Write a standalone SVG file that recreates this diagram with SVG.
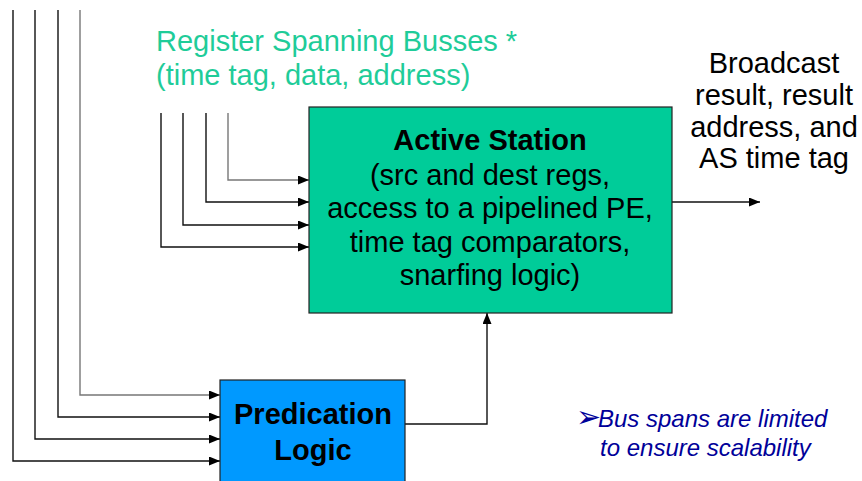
<svg xmlns="http://www.w3.org/2000/svg" width="862" height="481" viewBox="0 0 862 481">
<defs>
<marker id="ah" markerWidth="11" markerHeight="9" refX="11" refY="4.5" orient="auto" markerUnits="userSpaceOnUse">
<path d="M0,0 L11,4.5 L0,9 Z" fill="#000"/>
</marker>
<style>
.w{fill:none;stroke:#111;stroke-width:1.4}
.g{fill:none;stroke:#777;stroke-width:1.4}
.a{marker-end:url(#ah)}
.t{font-family:"Liberation Sans",Arial,sans-serif;font-size:29px;fill:#000;text-anchor:middle}
.b{font-weight:bold}
</style>
</defs>
<rect width="862" height="481" fill="#fff"/>
<g id="connectors">
<path class="w a" d="M13,10 V461 H220"/>
<path class="w a" d="M35,10 V439 H220"/>
<path class="w a" d="M58,10 V417 H220"/>
<path class="g a" d="M80,10 V395 H220"/>
<path class="w a" d="M161,113 V247 H309"/>
<path class="w a" d="M183,113 V225 H309"/>
<path class="w a" d="M206,113 V202 H309"/>
<path class="g a" d="M228,113 V180 H309"/>
<path class="w a" d="M405,424 H487 V313"/>
<path class="w a" d="M672,202 H760"/>
</g>
<g id="active-station">
<rect x="309" y="107" width="363" height="206" fill="#00CC99" stroke="#222" stroke-width="1.2"/>
<text class="t b" x="490" y="150">Active Station</text>
<text class="t" x="490" y="185">(src and dest regs,</text>
<text class="t" x="490" y="218">access to a pipelined PE,</text>
<text class="t" x="490" y="252">time tag comparators,</text>
<text class="t" x="490" y="285">snarfing logic)</text>
</g>
<g id="predication-logic">
<rect x="220" y="380" width="185" height="110" fill="#0099FF" stroke="#222" stroke-width="1.2"/>
<text class="t b" x="313" y="424">Predication</text>
<text class="t b" x="313" y="460">Logic</text>
</g>
<g id="bus-label">
<text class="t" x="156" y="51" style="text-anchor:start;fill:#1FCC99">Register Spanning Busses *</text>
<text class="t" x="156" y="85" style="text-anchor:start;fill:#1FCC99">(time tag, data, address)</text>
</g>
<g id="broadcast-label">
<text class="t" x="774" y="73">Broadcast</text>
<text class="t" x="774" y="105">result, result</text>
<text class="t" x="774" y="137">address, and</text>
<text class="t" x="774" y="168">AS time tag</text>
</g>
<g id="note">
<text x="576" y="427" style="font-family:'DejaVu Sans',sans-serif;font-size:30px;fill:#000099">➢</text>
<text x="598" y="427" style="font-family:'Liberation Sans',Arial,sans-serif;font-size:24px;font-style:italic;fill:#000099">Bus spans are limited</text>
<text x="600" y="456" style="font-family:'Liberation Sans',Arial,sans-serif;font-size:24px;font-style:italic;fill:#000099">to ensure scalability</text>
</g>
</svg>
